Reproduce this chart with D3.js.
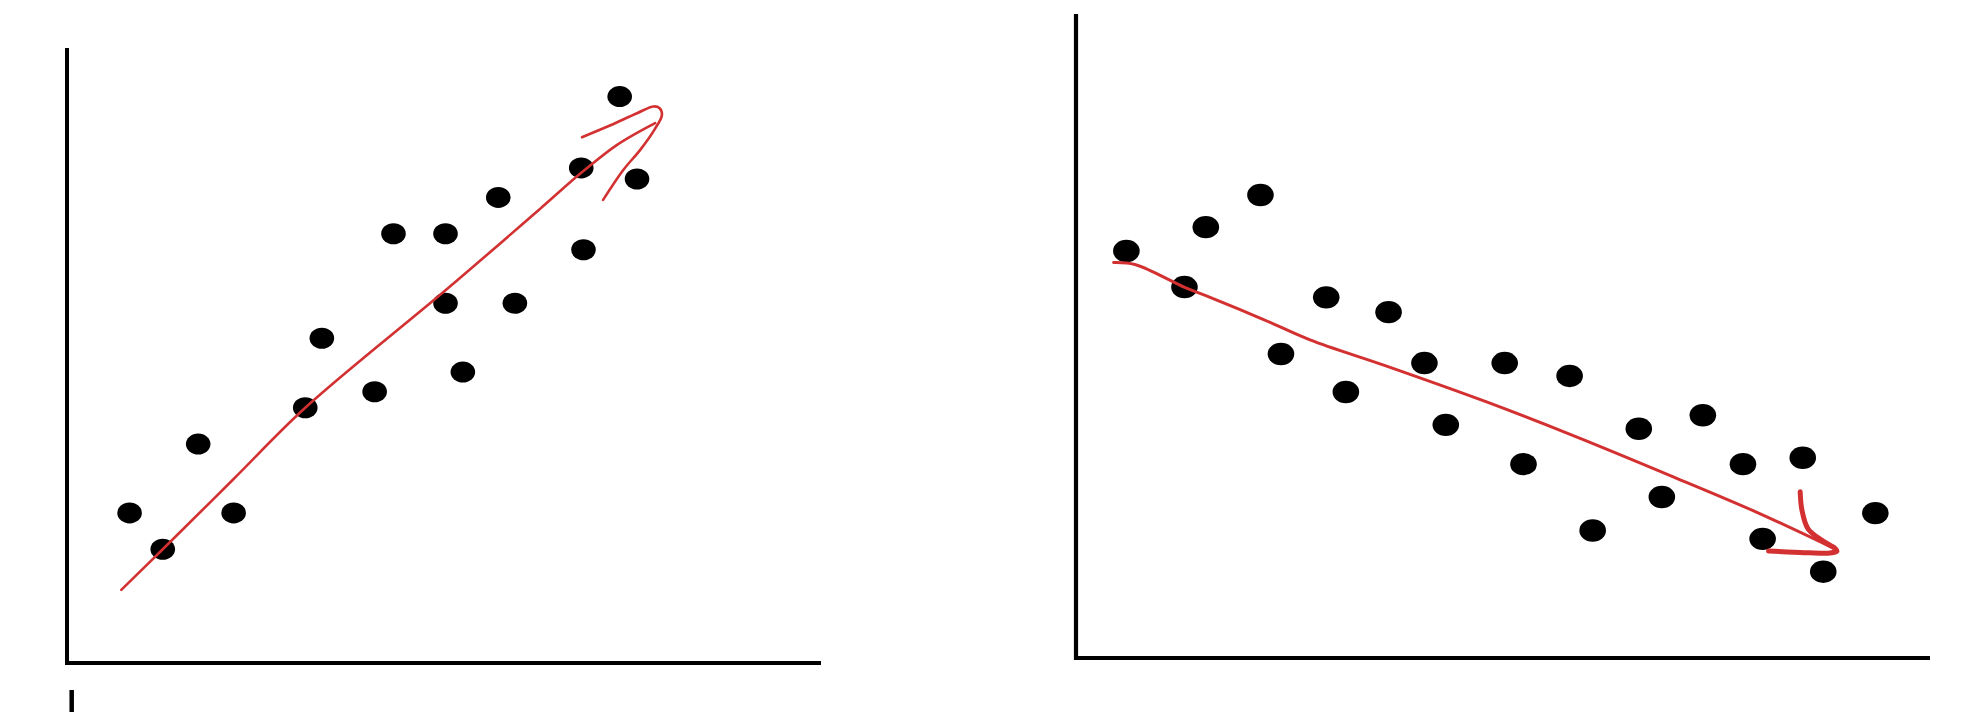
<!DOCTYPE html>
<html>
<head>
<meta charset="utf-8">
<script src="https://cdn.jsdelivr.net/npm/d3@7"></script>
<style>
  html, body { margin: 0; padding: 0; background: #ffffff; }
  svg { display: block; }
</style>
</head>
<body>
<svg id="chart" width="1968" height="712"></svg>
<script>
// ---------- Data (domain units 0-100 on each axis) ----------
// Left panel: positive correlation
const leftX = [73.3, 68.2, 75.6, 57.2, 43.3, 50.2, 68.5, 50.2, 59.4, 33.8, 52.5, 40.8, 31.6, 17.4, 8.3, 22.1, 12.7];
const leftY = [92.1, 80.5, 78.7, 75.7, 69.8, 69.8, 67.2, 58.5, 58.5, 52.8, 47.3, 44.1, 41.5, 35.6, 24.4, 24.4, 18.5];

// Left hand-drawn trend arrow
const leftTrendX = [7.2, 12.7, 22.0, 31.6, 50.2, 62.7, 68.2, 73.0, 78.0];
const leftTrendY = [11.9, 18.5, 29.8, 41.5, 60.6, 73.8, 79.7, 84.3, 87.8];
const leftHookX = [68.3, 72.0, 75.6, 77.8, 78.6, 78.9, 78.0, 76.0, 73.8, 71.1];
const leftHookY = [85.5, 87.4, 89.4, 90.5, 90.2, 89.1, 86.9, 83.4, 80.2, 75.3];

// Right panel: negative correlation
const rightX = [5.9, 15.2, 21.6, 12.7, 29.3, 36.6, 24.0, 40.8, 50.2, 57.8, 31.6, 43.3, 73.4, 65.9, 52.4, 78.1, 85.1, 68.6, 93.6, 60.5, 80.4, 87.5];
const rightY = [63.2, 66.9, 71.9, 57.6, 56.0, 53.7, 47.2, 45.8, 45.8, 43.8, 41.3, 36.2, 37.7, 35.6, 30.1, 30.1, 31.1, 25.0, 22.5, 19.8, 18.5, 13.4];

// Right hand-drawn trend arrow
const rightTrendX = [4.4, 6.9, 12.8, 15.7, 21.9, 27.4, 36.2, 48.0, 58.3, 70.0, 79.6, 89.1];
const rightTrendY = [61.4, 61.1, 57.5, 56.0, 52.6, 49.4, 45.4, 39.8, 34.5, 28.1, 22.7, 16.8];
const rightHookX = [84.8, 85.0, 85.7, 87.3, 88.9, 89.1, 88.3, 84.8, 81.1];
const rightHookY = [25.8, 23.0, 20.1, 18.3, 17.0, 16.6, 16.3, 16.4, 16.6];

// ---------- Drawing ----------
const svg = d3.select("#chart");
const RED = "#d33131";

const panels = [
  {
    xs: leftX, ys: leftY,
    trend: [leftTrendX, leftTrendY], hook: [leftHookX, leftHookY],
    xr: [67, 821], yr: [663, 48],
    rx: 12.3, ry: 10.5, axisW: 4, trendW: 2.6, hookW: 2.6
  },
  {
    xs: rightX, ys: rightY,
    trend: [rightTrendX, rightTrendY], hook: [rightHookX, rightHookY],
    xr: [1076, 1930], yr: [658, 14],
    rx: 13.3, ry: 11.2, axisW: 4.2, trendW: 3, hookW: 5
  }
];

panels.forEach(p => {
  const x = d3.scaleLinear().domain([0, 100]).range(p.xr);
  const y = d3.scaleLinear().domain([0, 100]).range(p.yr);
  const g = svg.append("g");

  // axes (no ticks)
  g.append("path")
    .attr("d", d3.line()([[x(0), y(100)], [x(0), y(0)], [x(100), y(0)]]))
    .attr("fill", "none")
    .attr("stroke", "#000")
    .attr("stroke-width", p.axisW)
    .attr("stroke-linejoin", "miter");

  // dots
  const pts = p.xs.map((v, i) => ({ x: v, y: p.ys[i] }));
  g.selectAll("ellipse")
    .data(pts)
    .join("ellipse")
    .attr("cx", d => x(d.x))
    .attr("cy", d => y(d.y))
    .attr("rx", p.rx)
    .attr("ry", p.ry)
    .attr("fill", "#000");

  // trend line + arrow hook
  const line = d3.line()
    .x(d => x(d[0]))
    .y(d => y(d[1]))
    .curve(d3.curveCatmullRom.alpha(0.5));

  const trendPts = p.trend[0].map((v, i) => [v, p.trend[1][i]]);
  const hookPts = p.hook[0].map((v, i) => [v, p.hook[1][i]]);

  g.append("path")
    .attr("d", line(trendPts))
    .attr("fill", "none")
    .attr("stroke", RED)
    .attr("stroke-width", p.trendW)
    .attr("stroke-linecap", "round");

  g.append("path")
    .attr("d", line(hookPts))
    .attr("fill", "none")
    .attr("stroke", RED)
    .attr("stroke-width", p.hookW)
    .attr("stroke-linecap", "round")
    .attr("stroke-linejoin", "round");
});

// small stub mark at the bottom-left edge of the picture
svg.append("line")
  .attr("x1", 71.7).attr("x2", 71.7)
  .attr("y1", 690).attr("y2", 712)
  .attr("stroke", "#000")
  .attr("stroke-width", 4.5);
</script>
</body>
</html>
